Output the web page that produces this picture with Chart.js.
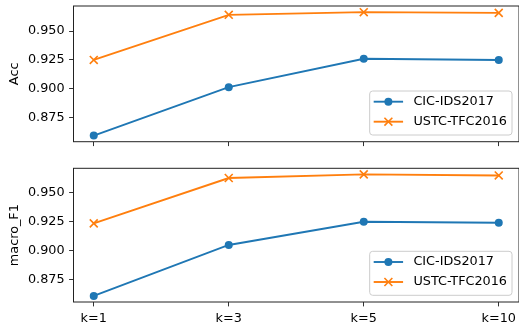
<!DOCTYPE html>
<html>
<head>
<meta charset="utf-8">
<script src="https://cdn.jsdelivr.net/npm/chart.js@4/dist/chart.umd.min.js"></script>
<style>
  html, body { margin: 0; padding: 0; background: #fff; overflow: hidden; }
  #wrap { position: relative; width: 519px; height: 330px; }
  canvas { position: absolute; left: 0; }
  #accChart { top: 0; }
  #f1Chart { top: 160px; }
</style>
</head>
<body>
<div id="wrap">
  <canvas id="accChart" width="519" height="150"></canvas>
  <canvas id="f1Chart" width="519" height="170"></canvas>
</div>
<script>
// data
const categories = ['k=1', 'k=3', 'k=5', 'k=10'];
const seriesNames = ['CIC-IDS2017', 'USTC-TFC2016'];
const accCic = [0.8597, 0.9015, 0.926, 0.925];
const accUstc = [0.925, 0.964, 0.9663, 0.9657];
const f1Cic = [0.8611, 0.9048, 0.9247, 0.9238];
const f1Ustc = [0.9233, 0.9622, 0.9653, 0.9644];
const yTicks = [0.875, 0.900, 0.925, 0.950];

const BLUE = '#1f77b4';
const ORANGE = '#ff7f0e';
const FONT_SIZE = 12.8;

Chart.defaults.font.family = '"DejaVu Sans", sans-serif';
Chart.defaults.font.size = FONT_SIZE;
Chart.defaults.color = '#000';

// black box round the plot area, like matplotlib spines
const framePlugin = {
    id: 'frame',
    afterDatasetsDraw(chart) {
        const a = chart.chartArea;
        const ctx = chart.ctx;
        ctx.save();
        ctx.strokeStyle = '#222';
        ctx.lineWidth = 1;
        ctx.strokeRect(a.left, a.top, a.right - a.left, a.bottom - a.top);
        ctx.restore();
    }
};

// legend box in the lower right corner of the plot area
const legendPlugin = {
    id: 'boxLegend',
    afterDraw(chart) {
        const ctx = chart.ctx;
        const a = chart.chartArea;
        const sets = chart.data.datasets;
        ctx.save();
        ctx.font = FONT_SIZE + 'px "DejaVu Sans"';
        const textW = Math.max(...sets.map(d => ctx.measureText(d.label).width));
        const w = 43.7 + textW + 5;
        const h = 44;
        const x = a.right - 7 - w;
        const y = a.bottom - 6.7 - h;
        const r = 3;
        ctx.beginPath();
        ctx.moveTo(x + r, y);
        ctx.lineTo(x + w - r, y);
        ctx.arcTo(x + w, y, x + w, y + r, r);
        ctx.lineTo(x + w, y + h - r);
        ctx.arcTo(x + w, y + h, x + w - r, y + h, r);
        ctx.lineTo(x + r, y + h);
        ctx.arcTo(x, y + h, x, y + h - r, r);
        ctx.lineTo(x, y + r);
        ctx.arcTo(x, y, x + r, y, r);
        ctx.closePath();
        ctx.fillStyle = 'rgba(255,255,255,0.8)';
        ctx.fill();
        ctx.strokeStyle = '#cccccc';
        ctx.lineWidth = 1;
        ctx.stroke();

        sets.forEach((d, i) => {
            const cy = y + 10.7 + i * 20;
            const mx = x + 18.7;
            ctx.strokeStyle = d.borderColor;
            ctx.lineWidth = d.borderWidth;
            ctx.beginPath();
            ctx.moveTo(x + 4, cy);
            ctx.lineTo(x + 33.4, cy);
            ctx.stroke();
            if (d.pointStyle === 'circle') {
                ctx.fillStyle = d.backgroundColor;
                ctx.beginPath();
                ctx.arc(mx, cy, d.pointRadius, 0, Math.PI * 2);
                ctx.fill();
            } else {
                const o = d.pointRadius * Math.SQRT1_2;
                ctx.lineWidth = d.pointBorderWidth;
                ctx.beginPath();
                ctx.moveTo(mx - o, cy - o);
                ctx.lineTo(mx + o, cy + o);
                ctx.moveTo(mx - o, cy + o);
                ctx.lineTo(mx + o, cy - o);
                ctx.stroke();
            }
            ctx.fillStyle = '#000';
            ctx.textBaseline = 'middle';
            ctx.textAlign = 'left';
            ctx.fillText(d.label, x + 43.7, cy);
        });
        ctx.restore();
    }
};

// no extra room for half tick labels, chart area set by hand
function noPadding(s) {
    s.paddingTop = 0;
    s.paddingBottom = 0;
    s.paddingLeft = 0;
    s.paddingRight = 0;
}

function makeChart(canvasId, yLabel, cicValues, ustcValues, showXLabels, padTop, xAxisHeight) {
    const all = cicValues.concat(ustcValues);
    const lo = Math.min(...all);
    const hi = Math.max(...all);
    const margin = (hi - lo) * 0.05; // matplotlib default margins

    const ctx = document.getElementById(canvasId).getContext('2d');
    return new Chart(ctx, {
        type: 'line',
        data: {
            datasets: [{
                label: seriesNames[0],
                data: cicValues.map((v, i) => ({ x: i, y: v })),
                borderColor: BLUE,
                backgroundColor: BLUE,
                borderWidth: 1.9,
                pointStyle: 'circle',
                pointRadius: 4,
                pointBorderWidth: 0,
                pointBackgroundColor: BLUE
            }, {
                label: seriesNames[1],
                data: ustcValues.map((v, i) => ({ x: i, y: v })),
                borderColor: ORANGE,
                backgroundColor: ORANGE,
                borderWidth: 1.9,
                pointStyle: 'crossRot',
                pointRadius: 5.6,
                pointBorderWidth: 1.6,
                pointBorderColor: ORANGE
            }]
        },
        options: {
            responsive: false,
            animation: false,
            events: [],
            // plot area runs just past the right edge, so no right spine shows
            layout: { autoPadding: false, padding: { top: padTop, right: -2, left: 0, bottom: 0 } },
            plugins: {
                legend: { display: false },
                tooltip: { enabled: false }
            },
            scales: {
                x: {
                    type: 'linear',
                    min: -0.15,
                    max: categories.length - 1 + 0.15,
                    afterBuildTicks: s => { s.ticks = categories.map((c, i) => ({ value: i })); },
                    ticks: {
                        display: showXLabels,
                        padding: 4.5,
                        maxRotation: 0,
                        autoSkip: false,
                        callback: v => categories[v]
                    },
                    grid: { drawOnChartArea: false, drawTicks: true, tickLength: 4.4, color: '#333', lineWidth: 1 },
                    border: { display: false },
                    afterFit: s => { s.height = xAxisHeight; noPadding(s); }
                },
                y: {
                    min: lo - margin,
                    max: hi + margin,
                    afterBuildTicks: s => { s.ticks = yTicks.map(v => ({ value: v })); },
                    ticks: { padding: 4.5, callback: v => v.toFixed(3) },
                    grid: { drawOnChartArea: false, drawTicks: true, tickLength: 4.4, color: '#333', lineWidth: 1 },
                    border: { display: false },
                    title: { display: true, text: yLabel, padding: { top: 7, bottom: 0 } },
                    afterFit: s => { s.width = 73.5; noPadding(s); }
                }
            }
        },
        plugins: [framePlugin, legendPlugin]
    });
}

makeChart('accChart', 'Acc', accCic, accUstc, false, 6, 8.3);
makeChart('f1Chart', 'macro_F1', f1Cic, f1Ustc, true, 8.3, 28);
</script>
</body>
</html>
